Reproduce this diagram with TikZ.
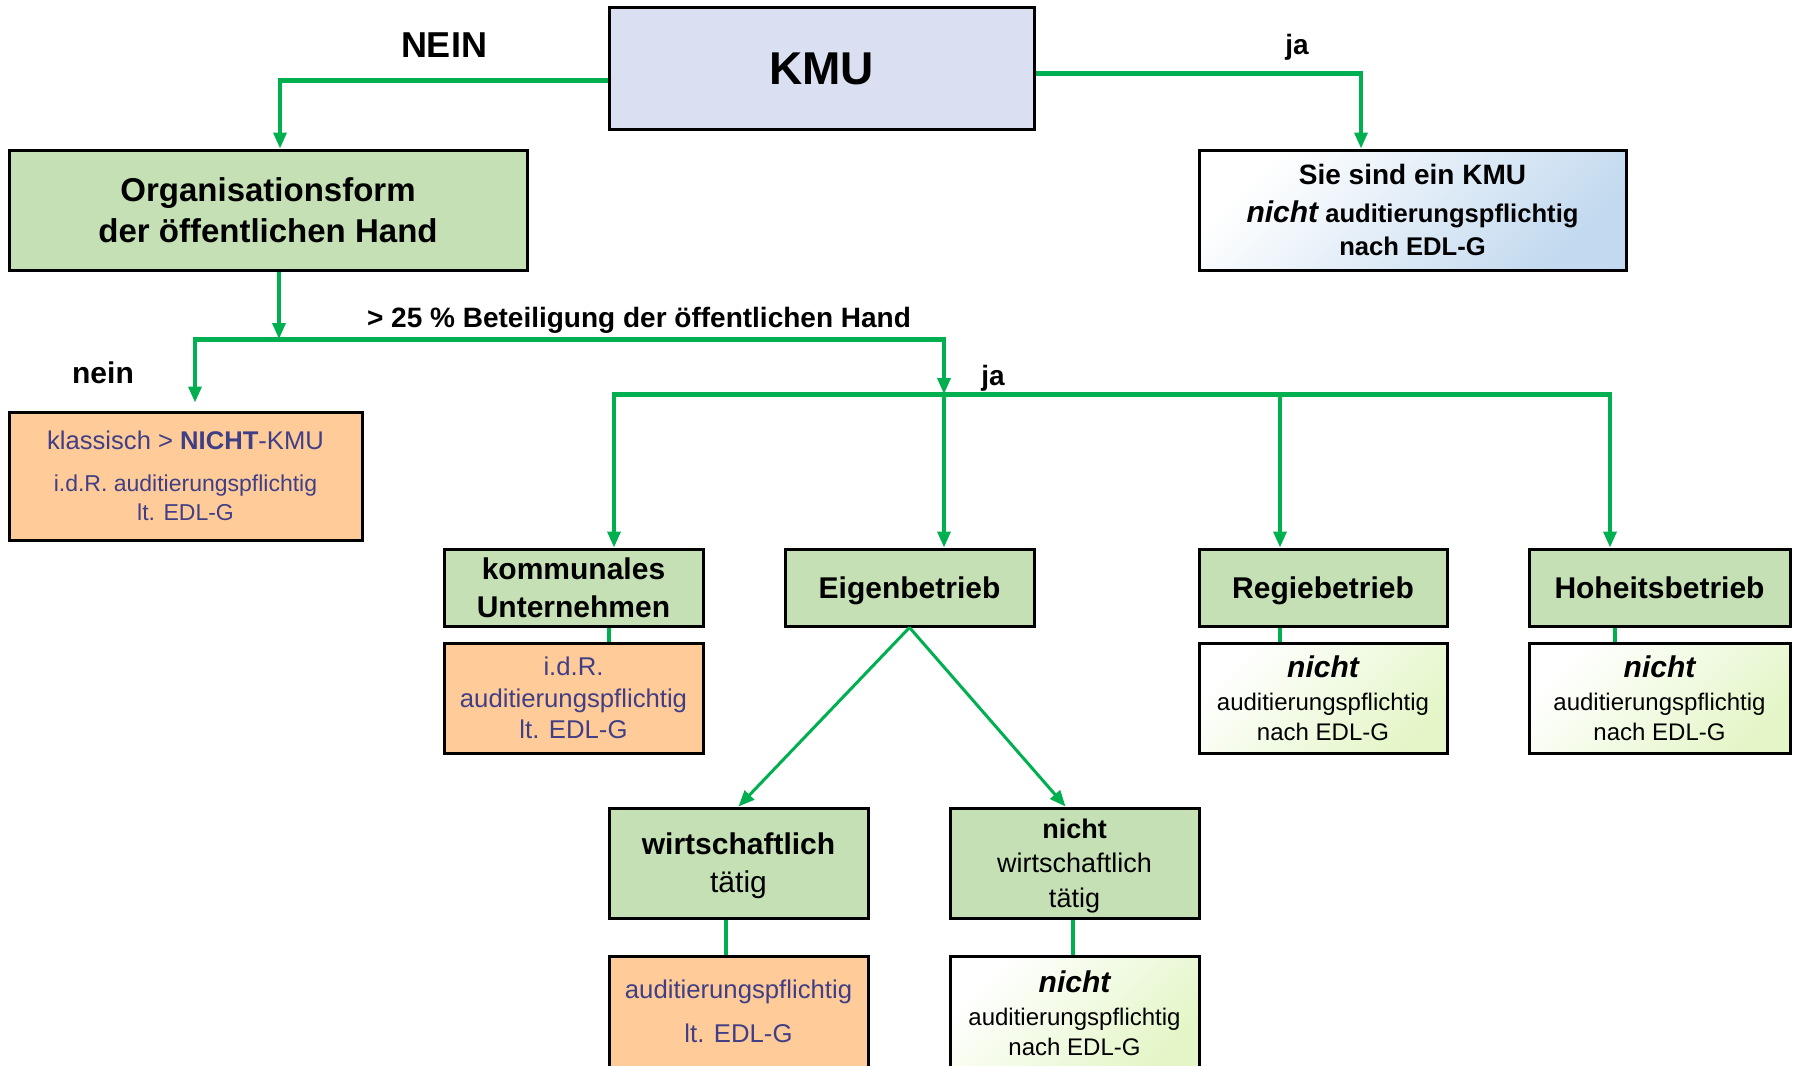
\documentclass[tikz,border=0pt]{standalone}
\usepackage{fontspec}
\setmainfont{Liberation Sans}
\usetikzlibrary{arrows.meta,calc}
\definecolor{grn}{HTML}{00B050}
\definecolor{boxgreen}{HTML}{C5E0B4}
\definecolor{lav}{HTML}{DAE0F2}
\definecolor{peach}{HTML}{FFCC99}
\definecolor{navy}{HTML}{403F86}
\definecolor{lblue}{HTML}{C2D9EF}
\definecolor{lgreen}{HTML}{E4F6C8}
\tikzset{
  box/.style={draw=black, line width=3pt, inner sep=0pt, align=center},
  hdr/.style={box, fill=boxgreen, font=\fontsize{30}{38}\selectfont\bfseries},
  single/.style={text height=22pt, text depth=-7pt},
  pbox/.style={box, fill=peach, text=navy},
  gbox/.style={box, top color=white, bottom color=lgreen, shading angle=45},
  hline/.style={grn, line width=5pt},
  vline/.style={grn, line width=3.5pt},
  dline/.style={grn, line width=3pt},
  arr/.style={-{Triangle[length=16pt,width=13pt]}},
  lbl/.style={anchor=base, inner sep=0pt, font=\fontsize{28}{30}\selectfont\bfseries},
}
\begin{document}
\begin{tikzpicture}[x=1pt,y=-1pt]
\useasboundingbox (0,0) rectangle (1795,1065);
\fill[white] (0,0) rectangle (1795,1065);

% boxes
\node[box, fill=lav, minimum width=425pt, minimum height=121pt, font=\fontsize{46}{50}\selectfont\bfseries] (kmu) at (821.5,68.5) {KMU};
\node[hdr, minimum width=518pt, minimum height=120pt, font=\fontsize{33}{41}\selectfont\bfseries] (org) at (268,210) {Organisationsform\\der öffentlichen Hand};
\node[box, top color=white, bottom color=lblue, shading angle=45, minimum width=427pt, minimum height=120pt, font=\fontsize{25.6}{33}\selectfont\bfseries] (sie) at (1412.5,210)
  {{\fontsize{28}{33}\selectfont Sie sind ein KMU}\\[5pt]{\fontsize{30}{33}\selectfont\itshape nicht}\ auditierungspflichtig\\nach EDL-G};
\node[pbox, minimum width=353pt, minimum height=128pt, font=\fontsize{23}{29}\selectfont] (kl) at (185.5,476)
  {{\fontsize{25.6}{29}\selectfont klassisch > \textbf{NICHT}-KMU}\\[13pt]i.d.R. auditierungspflichtig\\lt. EDL-G};

\node[hdr, minimum width=259pt, minimum height=77pt] (komm) at (573.5,587.5) {kommunales\\Unternehmen};
\node[hdr, single, minimum width=249pt, minimum height=77pt] (eig) at (909.5,587.5) {Eigenbetrieb};
\node[hdr, single, minimum width=248pt, minimum height=77pt] (reg) at (1323,587.5) {Regiebetrieb};
\node[hdr, single, minimum width=261pt, minimum height=77pt] (hoh) at (1659.5,587.5) {Hoheitsbetrieb};

\node[pbox, minimum width=259pt, minimum height=110pt, font=\fontsize{25.7}{31.5}\selectfont] (kb) at (573.5,698) {i.d.R.\\auditierungspflichtig\\lt. EDL-G};
\node[gbox, minimum width=248pt, minimum height=110pt, font=\fontsize{24}{29.5}\selectfont] (rb) at (1323,698)
  {{\fontsize{30}{30}\selectfont\bfseries\itshape nicht}\\[3.5pt]auditierungspflichtig\\nach EDL-G};
\node[gbox, minimum width=261pt, minimum height=110pt, font=\fontsize{24}{29.5}\selectfont] (hb) at (1659.5,698)
  {{\fontsize{30}{30}\selectfont\bfseries\itshape nicht}\\[3.5pt]auditierungspflichtig\\nach EDL-G};

\node[box, fill=boxgreen, text depth=-9pt, minimum width=259pt, minimum height=110pt, font=\fontsize{30}{38}\selectfont] (wt) at (738.5,863) {\textbf{wirtschaftlich}\\tätig};
\node[box, fill=boxgreen, text depth=-2.3pt, minimum width=249pt, minimum height=110pt, font=\fontsize{27}{34.5}\selectfont] (nwt) at (1074.5,863) {\textbf{nicht}\\wirtschaftlich\\tätig};

\node[pbox, text depth=4.6pt, minimum width=259pt, minimum height=114pt, font=\fontsize{25.7}{44}\selectfont] (wb) at (738.5,1013) {auditierungspflichtig\\lt. EDL-G};
\node[gbox, minimum width=249pt, minimum height=114pt, font=\fontsize{24}{29.5}\selectfont] (nwb) at (1074.5,1013)
  {{\fontsize{30}{30}\selectfont\bfseries\itshape nicht}\\[3.5pt]auditierungspflichtig\\nach EDL-G};

% labels
\node[lbl, font=\fontsize{36}{40}\selectfont\bfseries] (lnein1) at (444,58) {NEIN};
\node[lbl] (lja1) at (1297,55) {ja};
\node[lbl] (lbet) at (639,327) {> 25 \% Beteiligung der öffentlichen Hand};
\node[lbl, font=\fontsize{30}{30}\selectfont\bfseries] (lnein2) at (103,383) {nein};
\node[lbl] (lja2) at (993,385) {ja};

% junction coordinates
\coordinate (n1) at (280,80);
\coordinate (y1) at (1361,73);
\coordinate (o1) at (279,339);
\coordinate (l1L) at (195,339);
\coordinate (l1R) at (944,339);
\coordinate (l2L) at (614,394);
\coordinate (l2E) at (944,394);
\coordinate (l2R) at (1280,394);
\coordinate (l2H) at (1610,394);
\coordinate (ck) at (609,0);
\coordinate (cr) at (1280,0);
\coordinate (ch) at (1615,0);
\coordinate (cw) at (726,0);
\coordinate (cn) at (1073,0);

% connectors
\draw[hline] (kmu.west |- n1) -- ($(n1)+(-1.75,0)$);
\draw[vline, arr] (n1) -- (n1 |- org.north);
\draw[hline] (kmu.east |- y1) -- ($(y1)+(1.75,0)$);
\draw[vline, arr] (y1) -- (y1 |- sie.north);

\draw[vline, arr] (o1 |- org.south) -- (o1);
\draw[hline] ($(l1L)+(-1.75,0)$) -- ($(l1R)+(1.75,0)$);
\draw[vline, arr, shorten >=8pt] (l1L) -- (l1L |- kl.north);
\draw[vline, arr] (l1R) -- (l2E);

\draw[hline] ($(l2L)+(-1.75,0)$) -- ($(l2H)+(1.75,0)$);
\draw[vline, arr] (l2L) -- (l2L |- komm.north);
\draw[vline, arr] (l2E) -- (l2E |- eig.north);
\draw[vline, arr] (l2R) -- (l2R |- reg.north);
\draw[vline, arr] (l2H) -- (l2H |- hoh.north);

\draw[vline] (ck |- komm.south) -- (ck |- kb.north);
\draw[vline] (cr |- reg.south) -- (cr |- rb.north);
\draw[vline] (ch |- hoh.south) -- (ch |- hb.north);
\draw[vline, line width=4pt] (cw |- wt.south) -- (cw |- wb.north);
\draw[vline, line width=4pt] (cn |- nwt.south) -- (cn |- nwb.north);

\draw[dline, arr] (eig.south) -- (wt.north);
\draw[dline, arr] (eig.south) -- ($(nwt.north)+(-9,0)$);
\end{tikzpicture}
\end{document}
